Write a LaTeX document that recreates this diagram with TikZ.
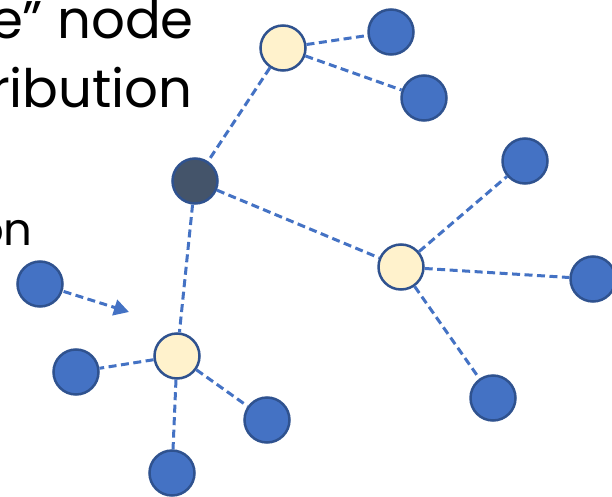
\documentclass[tikz,border=0pt]{standalone}
\usepackage{fontspec}
\setmainfont{Poppins}[Ligatures=NoCommon]
\usetikzlibrary{arrows.meta}
\definecolor{nblue}{HTML}{4472C4}
\definecolor{nborder}{HTML}{2F528F}
\definecolor{nyellow}{HTML}{FFF2CC}
\definecolor{ndark}{HTML}{44546A}
\tikzset{
  bnode/.style={circle, draw=nborder, fill=nblue, line width=2.5pt, minimum size=45pt, inner sep=0pt},
  ynode/.style={bnode, fill=nyellow},
  dnode/.style={bnode, fill=ndark},
  link/.style={draw=nblue, line width=3pt, dash pattern=on 8pt off 4.5pt},
  bigtxt/.style={font=\fontsize{53}{60}\selectfont, inner sep=0pt, text=black},
  midtxt/.style={font=\fontsize{45}{52}\selectfont, inner sep=0pt, text=black}
}
\begin{document}
\begin{tikzpicture}[x=1pt,y=-1pt]
\useasboundingbox (0,0) rectangle (612,497);
\clip (0,0) rectangle (612,497);
\fill[white] (0,0) rectangle (612,497);
% text
\node[bigtxt, anchor=base east] (t1) at (194,39) {e” node};
\node[bigtxt, anchor=base east] (t2) at (193,108) {ribution};
\node[midtxt, anchor=base east] (t3) at (33,245) {on};
% nodes
\node[ynode] (yt) at (283,48) {};
\node[bnode] (b1) at (391,32) {};
\node[bnode] (b2) at (424,98) {};
\node[dnode] (dk) at (195,181) {};
\node[ynode] (yr) at (401,267) {};
\node[bnode] (brt) at (525,161) {};
\node[bnode] (bre) at (593,279) {};
\node[bnode] (brb) at (493,398) {};
\node[ynode] (yl) at (177,356) {};
\node[bnode] (bl) at (76,372) {};
\node[bnode] (blr) at (267,420) {};
\node[bnode] (bb) at (172,473) {};
\node[bnode] (bi) at (40,284) {};
\coordinate (tip) at (129,312);
% links
\draw[link] (yt) -- (b1);
\draw[link] (yt) -- (b2);
\draw[link] (yt) -- (dk);
\draw[link] (dk) -- (yr);
\draw[link] (dk) -- (yl);
\draw[link] (yr) -- (brt);
\draw[link] (yr) -- (bre);
\draw[link] (yr) -- (brb);
\draw[link] (yl) -- (bl);
\draw[link] (yl) -- (blr);
\draw[link] (yl) -- (bb);
\draw[link, -{Triangle[length=15pt,width=16pt]}, shorten <=1pt] (bi) -- (tip);
\end{tikzpicture}
\end{document}
